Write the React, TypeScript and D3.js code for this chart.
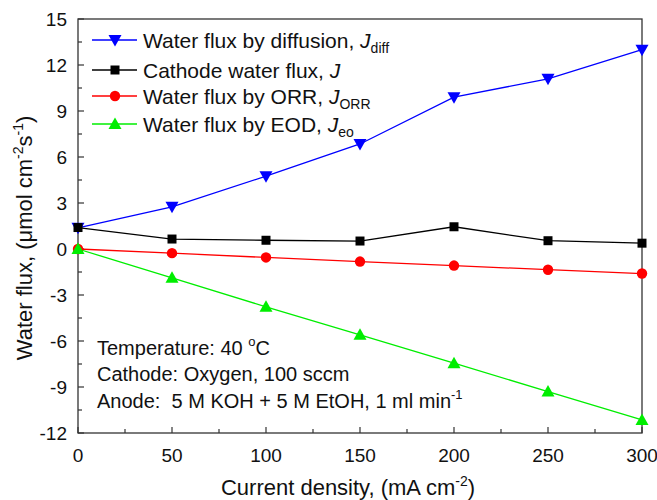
import React, { useEffect, useRef } from 'react'
import * as d3 from 'd3'

const currentDensity = [0, 50, 100, 150, 200, 250, 300]
const diffusionFlux = [1.38, 2.75, 4.75, 6.85, 9.9, 11.1, 13.0]
const cathodeFlux = [1.4, 0.65, 0.57, 0.52, 1.45, 0.54, 0.38]
const orrFlux = [0, -0.27, -0.55, -0.82, -1.08, -1.35, -1.6]
const eodFlux = [0, -1.88, -3.77, -5.6, -7.45, -9.3, -11.15]
const xTicks = [0, 50, 100, 150, 200, 250, 300]
const yTicks = [-12, -9, -6, -3, 0, 3, 6, 9, 12, 15]

const series = [
  { name: 'Water flux by diffusion, ', sub: 'diff', values: diffusionFlux, color: '#0000ff', marker: 'down' },
  { name: 'Cathode water flux, ', sub: '', values: cathodeFlux, color: '#000000', marker: 'square' },
  { name: 'Water flux by ORR, ', sub: 'ORR', values: orrFlux, color: '#ff0000', marker: 'circle' },
  { name: 'Water flux by EOD, ', sub: 'eo', values: eodFlux, color: '#00ee00', marker: 'up' },
]

const W = 657
const H = 500
const margin = { top: 19, right: 15, bottom: 67, left: 78 }
const FONT = 'Liberation Sans, Arial, sans-serif'

function markerPath(type: string) {
  if (type === 'square') return d3.symbol(d3.symbolSquare, 81)()
  if (type === 'circle') return d3.symbol(d3.symbolCircle, 85)()
  if (type === 'up') return 'M0,-6.5L6.5,5L-6.5,5Z'
  return 'M0,6.5L6.5,-5L-6.5,-5Z'
}

export default function App() {
  const ref = useRef<SVGSVGElement>(null)

  useEffect(() => {
    const svg = d3.select(ref.current)
    svg.selectAll('*').remove()

    const x = d3.scaleLinear().domain([0, 300]).range([margin.left, W - margin.right])
    const y = d3.scaleLinear().domain([-12, 15]).range([H - margin.bottom, margin.top])

    const axisColor = '#333'

    // frame
    svg
      .append('rect')
      .attr('x', x(0))
      .attr('y', y(15))
      .attr('width', x(300) - x(0))
      .attr('height', y(-12) - y(15))
      .attr('fill', 'none')
      .attr('stroke', axisColor)
      .attr('stroke-width', 1.3)

    // ticks, inside
    const xMinor = d3.range(25, 300, 50)
    const yMinor = d3.range(-10.5, 15, 3)
    const tg = svg.append('g').attr('stroke', axisColor).attr('stroke-width', 1.2)
    xTicks.forEach(v => tg.append('line').attr('x1', x(v)).attr('x2', x(v)).attr('y1', y(-12)).attr('y2', y(-12) - 6))
    xMinor.forEach(v => tg.append('line').attr('x1', x(v)).attr('x2', x(v)).attr('y1', y(-12)).attr('y2', y(-12) - 4))
    yTicks.forEach(v => tg.append('line').attr('x1', x(0)).attr('x2', x(0) + 6).attr('y1', y(v)).attr('y2', y(v)))
    yMinor.forEach(v => tg.append('line').attr('x1', x(0)).attr('x2', x(0) + 4).attr('y1', y(v)).attr('y2', y(v)))

    // tick labels
    svg
      .append('g')
      .selectAll('text')
      .data(xTicks)
      .join('text')
      .attr('x', d => x(d))
      .attr('y', y(-12) + 29)
      .attr('text-anchor', 'middle')
      .style('font', `19px ${FONT}`)
      .attr('fill', '#111')
      .text(d => d)

    svg
      .append('g')
      .selectAll('text')
      .data(yTicks)
      .join('text')
      .attr('x', x(0) - 11)
      .attr('y', d => y(d) + 7)
      .attr('text-anchor', 'end')
      .style('font', `19px ${FONT}`)
      .attr('fill', '#111')
      .text(d => d)

    // axis titles
    const xt = svg
      .append('text')
      .attr('x', 348)
      .attr('y', 495)
      .attr('text-anchor', 'middle')
      .style('font', `22px ${FONT}`)
      .attr('fill', '#111')
    xt.append('tspan').text('Current density, (mA cm')
    xt.append('tspan').attr('dy', -9).style('font-size', '14px').text('-2')
    xt.append('tspan').attr('dy', 9).text(')')

    const yt = svg
      .append('text')
      .attr('transform', `translate(32,238) rotate(-90)`)
      .attr('text-anchor', 'middle')
      .style('font', `22px ${FONT}`)
      .attr('fill', '#111')
    yt.append('tspan').text('Water flux, (\u03bcmol cm')
    yt.append('tspan').attr('dy', -9).style('font-size', '14px').text('-2')
    yt.append('tspan').attr('dy', 9).text('s')
    yt.append('tspan').attr('dy', -9).style('font-size', '14px').text('-1')
    yt.append('tspan').attr('dy', 9).text(')')

    // lines and markers
    const line = d3
      .line<number>()
      .x((d, i) => x(currentDensity[i]))
      .y(d => y(d))

    series.forEach(s => {
      svg
        .append('path')
        .datum(s.values)
        .attr('d', line)
        .attr('fill', 'none')
        .attr('stroke', s.color)
        .attr('stroke-width', 1.3)
    })
    series.forEach(s => {
      svg
        .append('g')
        .selectAll('path')
        .data(s.values)
        .join('path')
        .attr('transform', (d, i) => `translate(${x(currentDensity[i])},${y(d)})`)
        .attr('d', markerPath(s.marker))
        .attr('fill', s.color)
    })

    // legend
    const legendY = [40, 70, 96, 124]
    series.forEach((s, i) => {
      const g = svg.append('g').attr('transform', `translate(0,${legendY[i]})`)
      g.append('line').attr('x1', 92).attr('x2', 137).attr('stroke', s.color).attr('stroke-width', 1.3)
      g.append('path').attr('transform', 'translate(115,0)').attr('d', markerPath(s.marker)).attr('fill', s.color)
      const t = g
        .append('text')
        .attr('x', 143)
        .attr('y', 7.5)
        .style('font', `21px ${FONT}`)
        .attr('fill', '#111')
      t.append('tspan').text(s.name)
      t.append('tspan').style('font-style', 'italic').text('J')
      if (s.sub) t.append('tspan').attr('dy', 5).style('font-size', '14px').text(s.sub)
    })

    // annotation
    const notes = svg.append('g').style('font', `20px ${FONT}`).attr('fill', '#111')
    const n1 = notes.append('text').attr('x', 97).attr('y', 355)
    n1.append('tspan').text('Temperature: 40 ')
    n1.append('tspan').attr('dy', -9).style('font-size', '13px').text('o')
    n1.append('tspan').attr('dy', 9).text('C')
    notes.append('text').attr('x', 97).attr('y', 381).text('Cathode: Oxygen, 100 sccm')
    const n3 = notes.append('text').attr('x', 97).attr('y', 408)
    n3.append('tspan').text('Anode:\u00a0 5 M KOH + 5 M EtOH, 1 ml min')
    n3.append('tspan').attr('dy', -9).style('font-size', '13px').text('-1')
  }, [])

  return (
    <svg
      ref={ref}
      width={W}
      height={H}
      style={{ display: 'block', position: 'absolute', left: 0, top: 0, background: '#fff' }}
    />
  )
}
